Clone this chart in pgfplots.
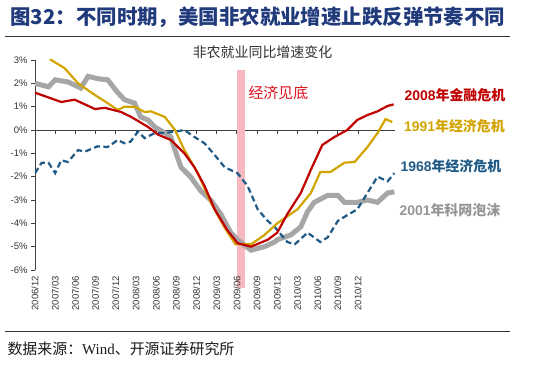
\documentclass[border=0pt]{standalone}
\usepackage{pgfplots}
\pgfplotsset{compat=1.18}
\usepackage{fontspec}
\setmainfont{Liberation Sans}
\newfontfamily\cjk{Noto Sans CJK SC}
\newfontfamily\serifw{Liberation Serif}
\definecolor{cred}{HTML}{C00000}
\definecolor{cgold}{HTML}{D2A400}
\definecolor{cblue}{HTML}{1F5A86}
\definecolor{cgray}{HTML}{A6A6A6}
\definecolor{cpink}{HTML}{F6B9C0}
\definecolor{ctitle}{HTML}{203A7C}
\definecolor{clabred}{HTML}{E0101E}

\pgfplotstableread{
m v
0 1.6
3.9 1.2
5.9 1.3
8.9 0.9
10.4 0.95
12.8 0.77
14.3 0.56
16.8 0.13
18.3 -0.2
20.2 -0.43
22.2 -1.0
23.7 -1.6
25.2 -2.4
26.7 -3.4
28.6 -4.3
30.1 -4.85
32.1 -5.0
34.6 -4.7
36 -4.4
37.5 -3.6
39.5 -2.7
41 -1.7
42.7 -0.64
44.5 -0.3
46.4 0
47.9 0.43
49.4 0.64
50.9 0.8
52.4 1.03
53.3 1.1
}\redtab

\pgfplotstableread{
m v
1.5 3.3
2.4 3.0
4.4 2.65
6.4 2.0
8.9 1.5
10.8 1.15
12.3 0.86
13.3 1.0
14.8 1.0
16.3 0.77
17.2 0.8
19.3 0.56
20.8 0.0
22.2 -0.86
24.2 -1.85
26.1 -3.1
28.2 -4.2
29.8 -4.9
32.1 -4.9
34.1 -4.5
36 -4.0
37.5 -3.7
39 -3.4
41 -2.7
42.4 -1.8
43.9 -1.8
46 -1.4
47.5 -1.37
49.4 -0.73
50.9 -0.13
52.1 0.47
53.1 0.34
}\goldtab

\pgfplotstableread{
m v
0 -1.85
1 -1.4
2 -1.4
3 -1.85
3.9 -1.3
4.9 -1.37
6.4 -0.86
7.4 -0.93
9.3 -0.7
10.8 -0.73
12.3 -0.43
13.3 -0.57
14.2 -0.5
15.3 -0.07
16.3 -0.35
17.8 -0.13
19.3 -0.13
20.8 -0.07
22.2 0.0
23.7 -0.3
25.2 -0.57
26.7 -1.07
28.2 -1.6
30.1 -1.85
31.6 -2.4
33.1 -3.4
34.6 -3.9
35.6 -4.15
37.5 -4.8
38.6 -4.9
40.5 -4.4
42.4 -4.8
43.5 -4.6
45 -3.9
46.4 -3.65
47.9 -3.4
49.4 -2.7
50.9 -2.0
52.4 -2.2
53.4 -1.85
}\bluetab

\pgfplotstableread{
m v
0 2.0
2 1.85
3 2.15
4.9 2.06
6.8 1.8
7.9 2.3
9.3 2.2
10.8 2.15
12.3 1.6
13.3 1.3
14.8 1.15
15.7 0.56
16.8 0.43
17.8 0.13
19.3 -0.13
20.2 -0.3
20.8 -0.86
21.7 -1.6
23.1 -2.0
24.6 -2.6
26.1 -3.0
27.6 -3.6
29.1 -4.4
30.1 -4.7
32.1 -5.15
34.1 -5.0
35.6 -4.8
36 -4.7
38 -4.5
39.5 -4.15
40.5 -3.5
41.5 -3.1
43.5 -2.8
45 -2.8
46 -3.1
47.9 -3.1
49.4 -3.0
50.9 -3.1
52.4 -2.7
53.4 -2.65
}\graytab

\begin{document}
\begin{tikzpicture}
\path[use as bounding box] (-35bp,-102bp) rectangle (515bp,270bp);

% zero line with quarter ticks, and the pink band
\begin{axis}[at={(0,0)}, anchor=south west, scale only axis,
  width=360bp, height=210bp, xmin=0, xmax=53.5, ymin=-6, ymax=3,
  axis x line=middle, axis y line=none,
  xtick={3,6,...,51}, xticklabels={}, ytick=\empty,
  tick align=outside, major tick length=4bp,
  axis line style={-, draw=black!75, line width=0.8bp},
  xtick style={draw=black!75, line width=0.8bp},
  clip=false]
\addplot[fill=cpink, draw=none] coordinates {(30.0,-6.77) (30.0,2.57) (31.2,2.57) (31.2,-6.77)} -- cycle;
\end{axis}

\begin{axis}[at={(0,0)}, anchor=south west, scale only axis,
  width=360bp, height=210bp, xmin=0, xmax=53.5, ymin=-6, ymax=3,
  axis x line=bottom, axis y line=left,
  x axis line style={draw=none},
  y axis line style={-, draw=black!75, line width=0.8bp},
  xtick={0,3,...,48},
  xticklabels={2006/12,2007/03,2007/06,2007/09,2007/12,2008/03,2008/06,2008/09,2008/12,2009/03,2009/06,2009/09,2009/12,2010/03,2010/06,2010/09,2010/12},
  xtick style={draw=none},
  ytick={-6,-5,...,3},
  yticklabel={\pgfmathprintnumber{\tick}\%},
  ytick style={draw=black!75, line width=0.8bp},
  tick align=outside, major tick length=4bp,
  ticklabel style={font=\fontsize{9.5}{10}\selectfont, text=black!80},
  xticklabel style={rotate=90, anchor=east, inner sep=2bp},
  /pgf/number format/assume math mode=true,
  clip=true]
\addplot[cgray, line width=5bp, no marks] table[x=m,y=v] {\graytab};
\addplot[cblue, line width=2.2bp, dash pattern=on 6bp off 3.5bp, no marks] table[x=m,y=v] {\bluetab};
\addplot[cgold, line width=2.2bp, no marks] table[x=m,y=v] {\goldtab};
\addplot[cred, line width=2.2bp, no marks] table[x=m,y=v] {\redtab};
\end{axis}

\node[anchor=west, text=ctitle, font=\cjk\bfseries\fontsize{20.5}{24}\selectfont] at (-28bp,252.5bp) {图32：不同时期，美国非农就业增速止跌反弹节奏不同};
\draw[line width=1.3bp, black!80] (-30bp,233.3bp) -- (475bp,233.3bp);
\node[font=\cjk\fontsize{14}{16}\selectfont, text=black!80] at (227.5bp,218bp) {非农就业同比增速变化};
\draw[line width=1.3bp, black!80] (-30bp,-61.5bp) -- (475bp,-61.5bp);
\node[anchor=west, font=\cjk\fontsize{15}{18}\selectfont, text=black!90] at (-31bp,-78.5bp) {数据来源：{\serifw Wind}、开源证券研究所};

\node[anchor=west, font=\cjk\fontsize{15}{18}\selectfont, text=clabred] at (210bp,177bp) {经济见底};
\node[anchor=west, font=\bfseries\fontsize{14}{16}\selectfont, text=cred] at (366bp,174.5bp) {2008{\cjk 年金融危机}};
\node[anchor=west, font=\bfseries\fontsize{14}{16}\selectfont, text=cgold] at (365.5bp,144bp) {1991{\cjk 年经济危机}};
\node[anchor=west, font=\bfseries\fontsize{14}{16}\selectfont, text=cblue] at (362bp,104bp) {1968{\cjk 年经济危机}};
\node[anchor=west, font=\bfseries\fontsize{14}{16}\selectfont, text=cgray!90!black] at (361bp,60bp) {2001{\cjk 年科网泡沫}};
\end{tikzpicture}
\end{document}
